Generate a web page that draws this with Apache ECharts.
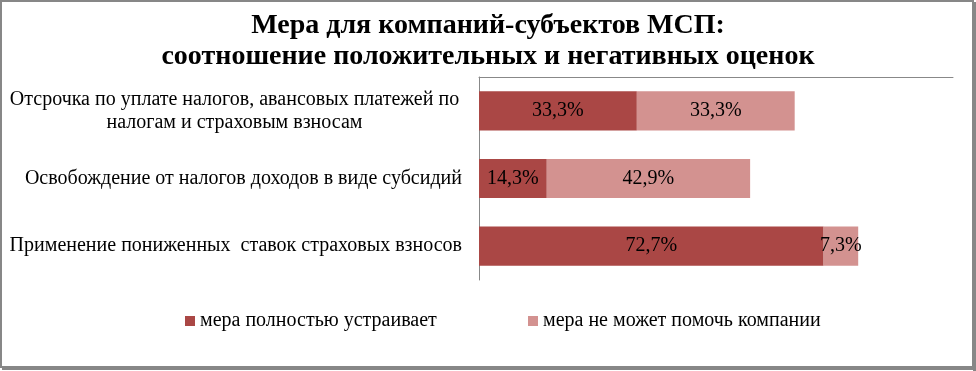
<!DOCTYPE html>
<html><head><meta charset="utf-8">
<script src="https://cdn.jsdelivr.net/npm/echarts@6/dist/echarts.min.js"></script>
<style>html,body{margin:0;padding:0;background:#fff}#c{width:976px;height:371px}</style>
</head><body><div id="c"></div>
<script>
const categories = [
  'Отсрочка по уплате налогов, авансовых платежей по\nналогам и страховым взносам',
  'Освобождение от налогов доходов в виде субсидий',
  'Применение пониженных  ставок страховых взносов'
];
const seriesNames = ['мера полностью устраивает', 'мера не может помочь компании'];
const satisfied = [33.3, 14.3, 72.7];
const cannotHelp = [33.3, 42.9, 7.3];
const colors = ['#AA4745', '#D39290'];
const titleLines = ['Мера для компаний-субъектов МСП:', 'соотношение положительных и негативных оценок'];

const serif = 'Liberation Serif';
const chart = echarts.init(document.getElementById('c'));
const fmt = p => p.value.toFixed(1).replace('.', ',') + '%';
const legendText = { fontFamily: serif, fontSize: 20, color: '#000' };
chart.setOption({
  animation: false,
  textStyle: { fontFamily: serif },
  title: {
    text: titleLines.join('\n'), left: 'center', top: 5,
    textStyle: { fontFamily: serif, fontWeight: 'bold', fontSize: 28, lineHeight: 31, color: '#000' }
  },
  graphic: [
    { type: 'rect', shape: { x: 1, y: 1, width: 972, height: 366 }, style: { fill: 'none', stroke: '#878787', lineWidth: 2 } },
    { type: 'rect', shape: { x: 973, y: 2, width: 3, height: 369 }, style: { fill: '#878787' } },
    { type: 'rect', shape: { x: 2, y: 367, width: 974, height: 3 }, style: { fill: '#878787' } }
  ],
  legend: [
    { data: [{ name: seriesNames[0], textStyle: legendText }], left: 180, top: 306, icon: 'rect', itemWidth: 10, itemHeight: 10, itemGap: 4,
      textStyle: legendText },
    { data: [{ name: seriesNames[1], textStyle: legendText }], left: 523, top: 306, icon: 'rect', itemWidth: 10, itemHeight: 10, itemGap: 4,
      textStyle: legendText }
  ],
  grid: { left: 479, right: 23, top: 77, bottom: 91, containLabel: false },
  xAxis: {
    type: 'value', position: 'top', min: 0, max: 100,
    axisLine: { show: true, lineStyle: { color: '#888', width: 1 } },
    axisTick: { show: false }, axisLabel: { show: false }, splitLine: { show: false }
  },
  yAxis: {
    type: 'category', inverse: true, data: categories,
    axisLine: { show: true, lineStyle: { color: '#888', width: 1 } },
    axisTick: { show: false },
    axisLabel: {
      margin: 17, color: '#000', fontFamily: serif, fontSize: 20, lineHeight: 23, align: 'right',
      formatter: (v) => v.indexOf('\n') >= 0 ? v.split('\n').map(s => '{c|' + s + '}').join('\n') : v,
      rich: { c: { width: 455, align: 'center', fontFamily: serif, fontSize: 20, lineHeight: 23, color: '#000' } }
    }
  },
  series: [
    { name: seriesNames[0], type: 'bar', stack: 'a', data: satisfied, barWidth: '58%',
      itemStyle: { color: colors[0] },
      label: { show: true, position: 'inside', color: '#000', fontFamily: serif, fontSize: 20, formatter: fmt } },
    { name: seriesNames[1], type: 'bar', stack: 'a', data: cannotHelp, barWidth: '58%',
      itemStyle: { color: colors[1] },
      label: { show: true, position: 'inside', color: '#000', fontFamily: serif, fontSize: 20, formatter: fmt } }
  ]
});
</script></body></html>
